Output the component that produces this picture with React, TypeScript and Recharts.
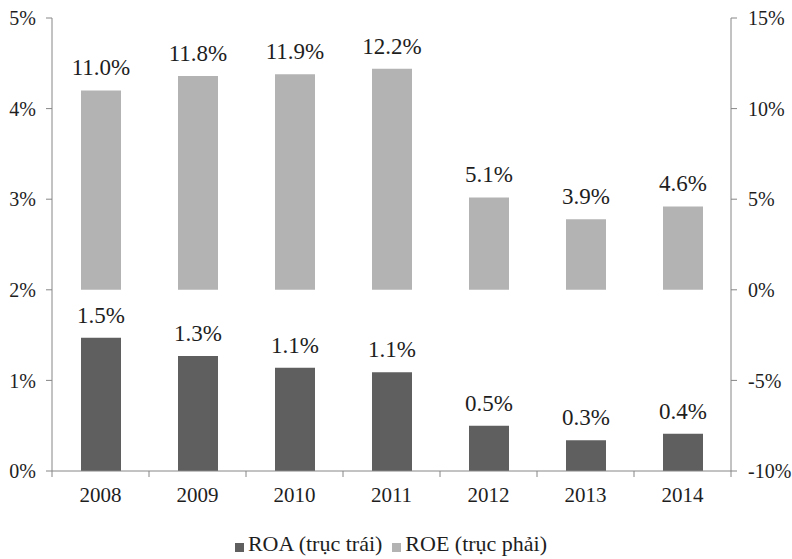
import React from 'react';
import { BarChart, Bar, XAxis, YAxis, Legend, LabelList } from 'recharts';

const years = ['2008', '2009', '2010', '2011', '2012', '2013', '2014'];
const roa = [1.47, 1.27, 1.14, 1.09, 0.5, 0.34, 0.41];
const roe = [11.0, 11.8, 11.9, 12.2, 5.1, 3.9, 4.6];
const leftTicks = [0, 1, 2, 3, 4, 5];
const rightTicks = [-10, -5, 0, 5, 10, 15];

const data = years.map((y, i) => ({ year: y, roa: roa[i], roe: roe[i] }));

const AXIS = '#868686';
const TEXT = '#1e1e1e';
const FONT = '"Liberation Serif", "Times New Roman", serif';

const YearTick = (props: any) => {
  const { x, y, payload, index, visibleTicksCount } = props;
  const half = payload && payload.offset ? payload.offset : 48.5;
  return (
    <g>
      <line x1={x - half} y1={y} x2={x - half} y2={y + 6} stroke={AXIS} />
      {index === (visibleTicksCount || years.length) - 1 && (
        <line x1={x + half} y1={y} x2={x + half} y2={y + 6} stroke={AXIS} />
      )}
      <text x={x} y={y + 31} textAnchor="middle" fill={TEXT} fontSize={21} fontFamily={FONT}>
        {payload.value}
      </text>
    </g>
  );
};

const fmtLabel = (v: any) => `${Number(v).toFixed(1)}%`;

export default function App() {
  return (
    <div style={{ position: 'absolute', left: 0, top: 0, width: 792, height: 559, background: '#fff' }}>
      <BarChart
        width={792}
        height={559}
        data={data}
        margin={{ top: 18, right: 0, left: 0, bottom: 2 }}
        style={{ fontFamily: FONT }}
      >
        <XAxis
          xAxisId="a"
          dataKey="year"
          height={60}
          axisLine={{ stroke: AXIS }}
          tickLine={false}
          tickSize={0}
          tickMargin={0}
          tick={<YearTick />}
          interval={0}
        />
        <XAxis xAxisId="b" dataKey="year" hide />
        <YAxis
          yAxisId="left"
          orientation="left"
          width={52}
          domain={[0, 5]}
          ticks={leftTicks}
          interval={0}
          tickFormatter={(v: number) => `${v}%`}
          axisLine={{ stroke: AXIS }}
          tickLine={{ stroke: AXIS }}
          tickSize={6}
          tickMargin={10}
          tick={{ fill: TEXT, fontSize: 20, fontFamily: FONT }}
        />
        <YAxis
          yAxisId="right"
          orientation="right"
          width={61}
          domain={[-10, 15]}
          ticks={rightTicks}
          interval={0}
          tickFormatter={(v: number) => `${v}%`}
          axisLine={{ stroke: AXIS }}
          tickLine={{ stroke: AXIS }}
          tickSize={6}
          tickMargin={11}
          tick={{ fill: TEXT, fontSize: 20, fontFamily: FONT }}
        />
        <Bar
          xAxisId="a"
          yAxisId="left"
          dataKey="roa"
          name="ROA (trục trái)"
          fill="#5f5f5f"
          barSize={40}
          isAnimationActive={false}
        >
          <LabelList dataKey="roa" position="top" offset={15} formatter={fmtLabel} fill={TEXT} fontSize={23} fontFamily={FONT} />
        </Bar>
        <Bar
          xAxisId="b"
          yAxisId="right"
          dataKey="roe"
          name="ROE (trục phải)"
          fill="#b3b3b3"
          barSize={40}
          isAnimationActive={false}
        >
          <LabelList dataKey="roe" position="top" offset={15} formatter={fmtLabel} fill={TEXT} fontSize={23} fontFamily={FONT} />
        </Bar>
        <Legend
          verticalAlign="bottom"
          align="center"
          iconType="square"
          iconSize={9}
          formatter={(value: string) => (
            <span style={{ color: TEXT, fontSize: 22, fontFamily: FONT }}>{value}</span>
          )}
        />
      </BarChart>
    </div>
  );
}
